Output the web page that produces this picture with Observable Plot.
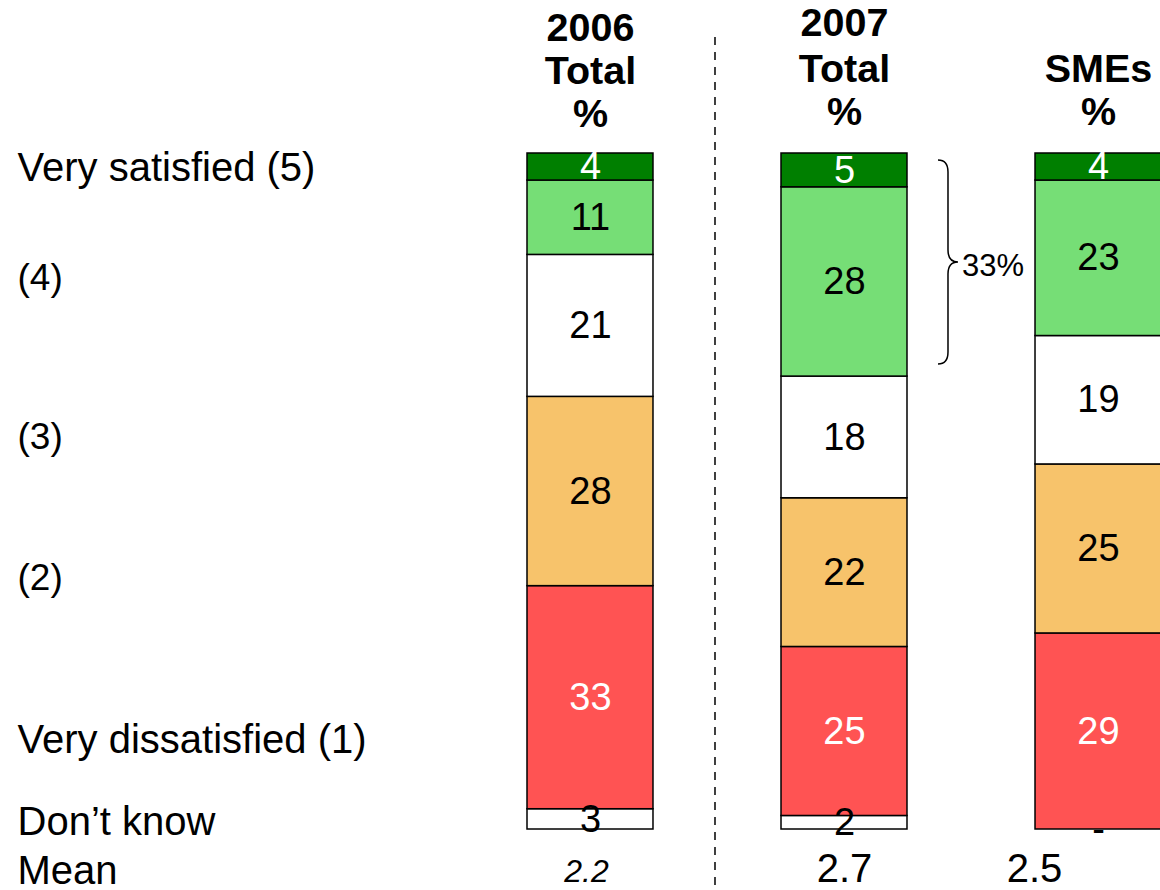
<!DOCTYPE html>
<html><head><meta charset="utf-8">
<script src="https://cdn.jsdelivr.net/npm/d3@7"></script>
<script src="https://cdn.jsdelivr.net/npm/@observablehq/plot@0.6"></script>
<style>
body{margin:0;background:#fff}
#chart{position:absolute;left:0;top:0}
</style>
</head><body><div id="chart"></div>
<script>
// ---- data ----
const groups = ["2006 Total", "2007 Total", "SMEs"];
const headerLines = [["2006", "Total", "%"], ["2007", "Total", "%"], ["SMEs", "%"]];
const categories = ["Don't know", "Very dissatisfied (1)", "(2)", "(3)", "(4)", "Very satisfied (5)"];
const values2006 = [3, 33, 28, 21, 11, 4];
const values2007 = [2, 25, 22, 18, 28, 5];
const valuesSME = [0, 29, 25, 19, 23, 4];
const labelsSME = ["-", "29", "25", "19", "23", "4"];
const means = ["2.2", "2.7", "2.5"];
const rowLabels = ["Very satisfied (5)", "(4)", "(3)", "(2)", "Very dissatisfied (1)", "Don\u2019t know", "Mean"];
const braceLabel = "33%";

// ---- style / layout ----
const segColors = ["#ffffff", "#ff5353", "#f7c36b", "#ffffff", "#76de76", "#007f00"];
const segTextColors = ["#000000", "#ffffff", "#000000", "#000000", "#000000", "#ffffff"];
const W = 1160, H = 890;
const yTop = 153, yBottom = 829;
const xRange = [527, 1161];
const padInner = 0.504;
const rowLabelY = [168, 278, 437, 578, 740, 822, 871];
const rowLabelSize = [40, 37, 37, 37, 40, 40, 40];
const headerBaselines = [[40, 83, 126], [35, 81, 124], [81, 124]];
const meanDx = [-4, 0, -64];
const meanBaseline = 881;
const meanStyle = [{fontSize: 32, fontStyle: "italic"}, {fontSize: 40, fontStyle: "normal"}, {fontSize: 40, fontStyle: "normal"}];
const FONT = "'Liberation Sans', Arial, Helvetica, sans-serif";

// ---- build table ----
const seriesValues = [values2006, values2007, valuesSME];
const rows = [];
seriesValues.forEach((vals, g) => {
  let acc = 0;
  vals.forEach((v, i) => {
    const label = g === 2 ? labelsSME[i] : String(v);
    rows.push({group: groups[g], category: categories[i], value: v, y1: acc, y2: acc + v,
      mid: acc + v / 2, color: segColors[i], textColor: segTextColors[i], label});
    acc += v;
  });
});

const headerMarks = headerLines.flatMap((lines, g) => lines.map((line, i) =>
  Plot.text([line], {x: () => groups[g], text: d => d, frameAnchor: "top", dy: headerBaselines[g][i],
    lineAnchor: "bottom", fontWeight: "bold", fontSize: 39.5, fill: "#000"})));

const rowLabelMarks = rowLabels.map((lab, i) =>
  Plot.text([lab], {text: d => d, frameAnchor: "top-left", dx: 17, dy: rowLabelY[i],
    lineAnchor: "middle", textAnchor: "start", fontSize: rowLabelSize[i], fill: "#000"}));

const meanMarks = means.map((m, g) =>
  Plot.text([m], {x: () => groups[g], text: d => d, frameAnchor: "top", dy: meanBaseline, dx: meanDx[g],
    lineAnchor: "bottom", fontSize: meanStyle[g].fontSize, fontStyle: meanStyle[g].fontStyle, fill: "#000"}));

const plot = Plot.plot({
  width: W, height: H, margin: 0,
  style: {fontFamily: FONT, background: "white", overflow: "visible"},
  x: {type: "band", domain: groups, range: xRange, paddingInner: padInner, paddingOuter: 0, round: false, axis: null},
  y: {domain: [0, 100], range: [yBottom, yTop], axis: null},
  color: {type: "identity"},
  marks: [
    Plot.rectY(rows, {x: "group", y1: "y1", y2: "y2", fill: "color", stroke: "#000", strokeWidth: 1.5}),
    Plot.text(rows, {x: "group", y: "mid", text: "label", fill: "textColor", fontSize: 38}),
    ...headerMarks,
    ...rowLabelMarks,
    ...meanMarks
  ]
});

document.getElementById("chart").appendChild(plot);
const svgEl = plot.tagName.toLowerCase() === "svg" ? plot : plot.querySelector("svg");
const svg = d3.select(svgEl);

// scales mirroring the Plot configuration for annotations
const xs = d3.scaleBand().domain(groups).range(xRange).paddingInner(padInner).paddingOuter(0);
const ys = d3.scaleLinear().domain([0, 100]).range([yBottom, yTop]);
const bw = xs.bandwidth();

// dashed separator between 2006 and 2007
const sepX = (xs(groups[0]) + bw + xs(groups[1])) / 2 - 2;
svg.append("line").attr("x1", sepX).attr("x2", sepX).attr("y1", 37).attr("y2", 885)
  .attr("stroke", "#000").attr("stroke-width", 1.5).attr("stroke-dasharray", "8,7");

// brace over the two "satisfied" segments of 2007
const topVal = d3.sum(values2007);
const botVal = topVal - values2007[5] - values2007[4];
const bx0 = xs(groups[1]) + bw + 31, bxb = bx0 + 10, btip = bx0 + 20;
const by0 = ys(topVal) + 7, by1 = ys(botVal) - 12, bmid = (by0 + by1) / 2, r = 12;
const p = `M${bx0},${by0} Q${bxb},${by0} ${bxb},${by0 + r} L${bxb},${bmid - r} Q${bxb},${bmid} ${btip},${bmid} Q${bxb},${bmid} ${bxb},${bmid + r} L${bxb},${by1 - r} Q${bxb},${by1} ${bx0},${by1}`;
svg.append("path").attr("d", p).attr("fill", "none").attr("stroke", "#000").attr("stroke-width", 1.5);
svg.append("text").attr("x", btip + 4).attr("y", bmid + 3).attr("dy", "0.35em")
  .attr("text-anchor", "start")
  .attr("font-size", 31).attr("font-family", FONT).attr("fill", "#000").text(braceLabel);
</script>
</body></html>
